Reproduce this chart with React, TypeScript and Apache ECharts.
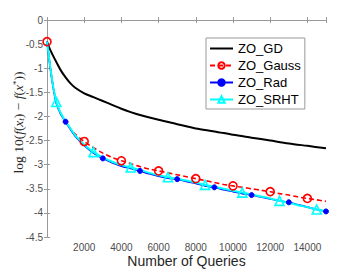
import { useEffect, useRef } from "react";
import * as echarts from "echarts";

// ZO_GD curve samples
const gdX = [0, 100, 200, 350, 500, 750, 1000, 1250, 1500, 2000, 2500, 3000, 3500, 4000, 4500, 5000, 6000, 7000, 8000, 9000, 10000, 11000, 12000, 13000, 14000, 15000];
const gdY = [-0.45, -0.55, -0.64, -0.76, -0.87, -1.05, -1.19, -1.31, -1.4, -1.52, -1.6, -1.68, -1.76, -1.84, -1.91, -1.97, -2.07, -2.16, -2.25, -2.31, -2.38, -2.44, -2.5, -2.56, -2.61, -2.66];

// shared query grid for the three sketched methods
const queryX = [0, 250, 500, 750, 1000, 1500, 2000, 2500, 3000, 3500, 4000, 4500, 5000, 5500, 6000, 6500, 7000, 7500, 8000, 8500, 9000, 9500, 10000, 10500, 11000, 11500, 12000, 12500, 13000, 13500, 14000, 14500, 15000];
const gaussY = [-0.45, -1.18, -1.7, -1.95, -2.12, -2.36, -2.52, -2.65, -2.76, -2.85, -2.92, -2.98, -3.04, -3.09, -3.13, -3.17, -3.21, -3.25, -3.29, -3.33, -3.37, -3.41, -3.44, -3.47, -3.5, -3.53, -3.56, -3.6, -3.63, -3.67, -3.7, -3.73, -3.76];
const radY = [-0.45, -1.2, -1.73, -1.96, -2.11, -2.4, -2.6, -2.76, -2.87, -2.96, -3.03, -3.08, -3.13, -3.19, -3.24, -3.28, -3.3, -3.35, -3.39, -3.44, -3.47, -3.52, -3.56, -3.6, -3.63, -3.67, -3.71, -3.75, -3.78, -3.83, -3.88, -3.93, -3.97];
const srhtY = [-0.45, -1.18, -1.7, -1.94, -2.1, -2.38, -2.58, -2.74, -2.85, -2.94, -3.01, -3.06, -3.11, -3.17, -3.22, -3.26, -3.29, -3.33, -3.37, -3.42, -3.46, -3.5, -3.54, -3.58, -3.62, -3.66, -3.7, -3.75, -3.79, -3.84, -3.88, -3.93, -3.96];

// which query counts carry a marker
const gaussMarks = [0, 2000, 4000, 6000, 8000, 10000, 12000, 14000];
const radMarks = [1000, 3000, 5000, 7000, 9000, 11000, 13000, 15000];
const srhtMarks = [500, 2500, 4500, 6500, 8500, 10500, 12500, 14500];

const seriesNames = ["ZO_GD", "ZO_Gauss", "ZO_Rad", "ZO_SRHT"];
const xTicks = { min: 0, max: 15000, interval: 2000 };
const yTicks = { min: -4.5, max: 0, interval: 0.5 };

function withMarks(xs: number[], ys: number[], marks: number[]) {
  return xs.map((x, i) =>
    marks.includes(x) ? [x, ys[i]] : { value: [x, ys[i]], symbol: "none" }
  );
}

const AXIS = "#999999";
const LABEL = "#4d4d4d";

export default function App() {
  const ref = useRef<HTMLDivElement>(null);
  useEffect(() => {
    if (!ref.current) return;
    const chart = echarts.init(ref.current, undefined, { renderer: "svg" });
    const serif = "'Liberation Serif', 'DejaVu Serif', serif";
    const axisCommon = {
      axisLine: { show: true, lineStyle: { color: AXIS, width: 1 } },
      axisTick: { show: true, inside: true, length: 3, lineStyle: { color: AXIS } },
      splitLine: { show: false },
    };
    chart.setOption({
      animation: false,
      backgroundColor: "#ffffff",
      grid: { left: 47, right: 34, top: 20, bottom: 33, outerBoundsMode: "none", containLabel: false },
      legend: {
        orient: "vertical",
        left: 206,
        top: 38,
        itemWidth: 23,
        itemHeight: 8,
        itemGap: 4,
        padding: [4, 4, 3, 3],
        borderColor: AXIS,
        borderWidth: 1,
        backgroundColor: "#ffffff",
        textStyle: { fontSize: 13, fontFamily: "'Liberation Sans', Arial, sans-serif", color: "#000" },
        data: [
          { name: seriesNames[0], itemStyle: { opacity: 0 } },
          { name: seriesNames[1] },
          { name: seriesNames[2] },
          { name: seriesNames[3] },
        ],
      },
      xAxis: [
        {
          type: "value",
          position: "bottom",
          ...xTicks,
          ...axisCommon,
          axisLabel: {
            margin: 5,
            fontSize: 10,
            color: LABEL,
            fontFamily: "'Liberation Sans', Arial, sans-serif",
            formatter: (v: number) => (v === 0 || v === 15000 ? "" : String(v)),
          },
          name: "Number of Queries",
          nameLocation: "middle",
          nameMoveOverlap: false,
          nameGap: 17,
          nameTextStyle: { fontSize: 14, color: "#262626", fontFamily: "'Liberation Sans', Arial, sans-serif" },
        },
        {
          type: "value",
          position: "top",
          ...xTicks,
          ...axisCommon,
          axisLabel: { show: false },
        },
      ],
      yAxis: [
        {
          type: "value",
          position: "left",
          ...yTicks,
          ...axisCommon,
          axisLabel: {
            margin: 4,
            fontSize: 10,
            color: LABEL,
            fontFamily: "'Liberation Sans', Arial, sans-serif",
          },
          name: "{n|log 10(}{i|f}{n|(}{i|x}{s|t}{n|) − }{i|f}{n|(}{i|x}{p|*}{n|))}",
          nameLocation: "middle",
          nameRotate: 90,
          nameMoveOverlap: false,
          nameGap: 22,
          nameTextStyle: {
            color: "#262626",
            padding: [0, 0, 0, 12],
            rich: {
              n: { fontSize: 13.5, fontFamily: serif, color: "#262626" },
              i: { fontSize: 13.5, fontFamily: serif, fontStyle: "italic", color: "#262626" },
              s: { fontSize: 9, fontFamily: serif, fontStyle: "italic", color: "#262626", verticalAlign: "bottom" },
              p: { fontSize: 9, fontFamily: serif, color: "#262626", verticalAlign: "top" },
            },
          },
        },
        {
          type: "value",
          position: "right",
          ...yTicks,
          ...axisCommon,
          axisLabel: { show: false },
        },
      ],
      series: [
        {
          name: seriesNames[0],
          type: "line",
          xAxisIndex: 0,
          yAxisIndex: 0,
          data: gdX.map((x, i) => [x, gdY[i]]),
          symbol: "none",
          smooth: 0.3,
          color: "#000000",
          lineStyle: { color: "#000000", width: 2 },
        },
        {
          name: seriesNames[1],
          type: "line",
          xAxisIndex: 0,
          yAxisIndex: 0,
          data: withMarks(queryX, gaussY, gaussMarks),
          symbol: "circle",
          symbolSize: 8,
          smooth: 0.3,
          color: "#ff0000",
          lineStyle: { color: "#ff0000", width: 1.6, type: [5, 3] },
          itemStyle: { color: "rgba(255,255,255,0)", borderColor: "#ff0000", borderWidth: 1.6 },
        },
        {
          name: seriesNames[2],
          type: "line",
          xAxisIndex: 0,
          yAxisIndex: 0,
          data: withMarks(queryX, radY, radMarks),
          symbol: "circle",
          symbolSize: 5,
          smooth: 0.3,
          color: "#0000ff",
          lineStyle: { color: "#0000ff", width: 1.6 },
          itemStyle: { color: "#0000ff", borderColor: "#0000ff", borderWidth: 1 },
        },
        {
          name: seriesNames[3],
          type: "line",
          xAxisIndex: 0,
          yAxisIndex: 0,
          data: withMarks(queryX, srhtY, srhtMarks),
          symbol: "triangle",
          symbolSize: 9,
          smooth: 0.3,
          color: "#00ffff",
          lineStyle: { color: "#00ffff", width: 2 },
          itemStyle: { color: "rgba(255,255,255,0)", borderColor: "#00ffff", borderWidth: 1.6 },
        },
      ],
    });
    return () => chart.dispose();
  }, []);
  return (
    <div
      ref={ref}
      style={{ position: "absolute", left: 0, top: 0, width: 360, height: 270 }}
    />
  );
}
